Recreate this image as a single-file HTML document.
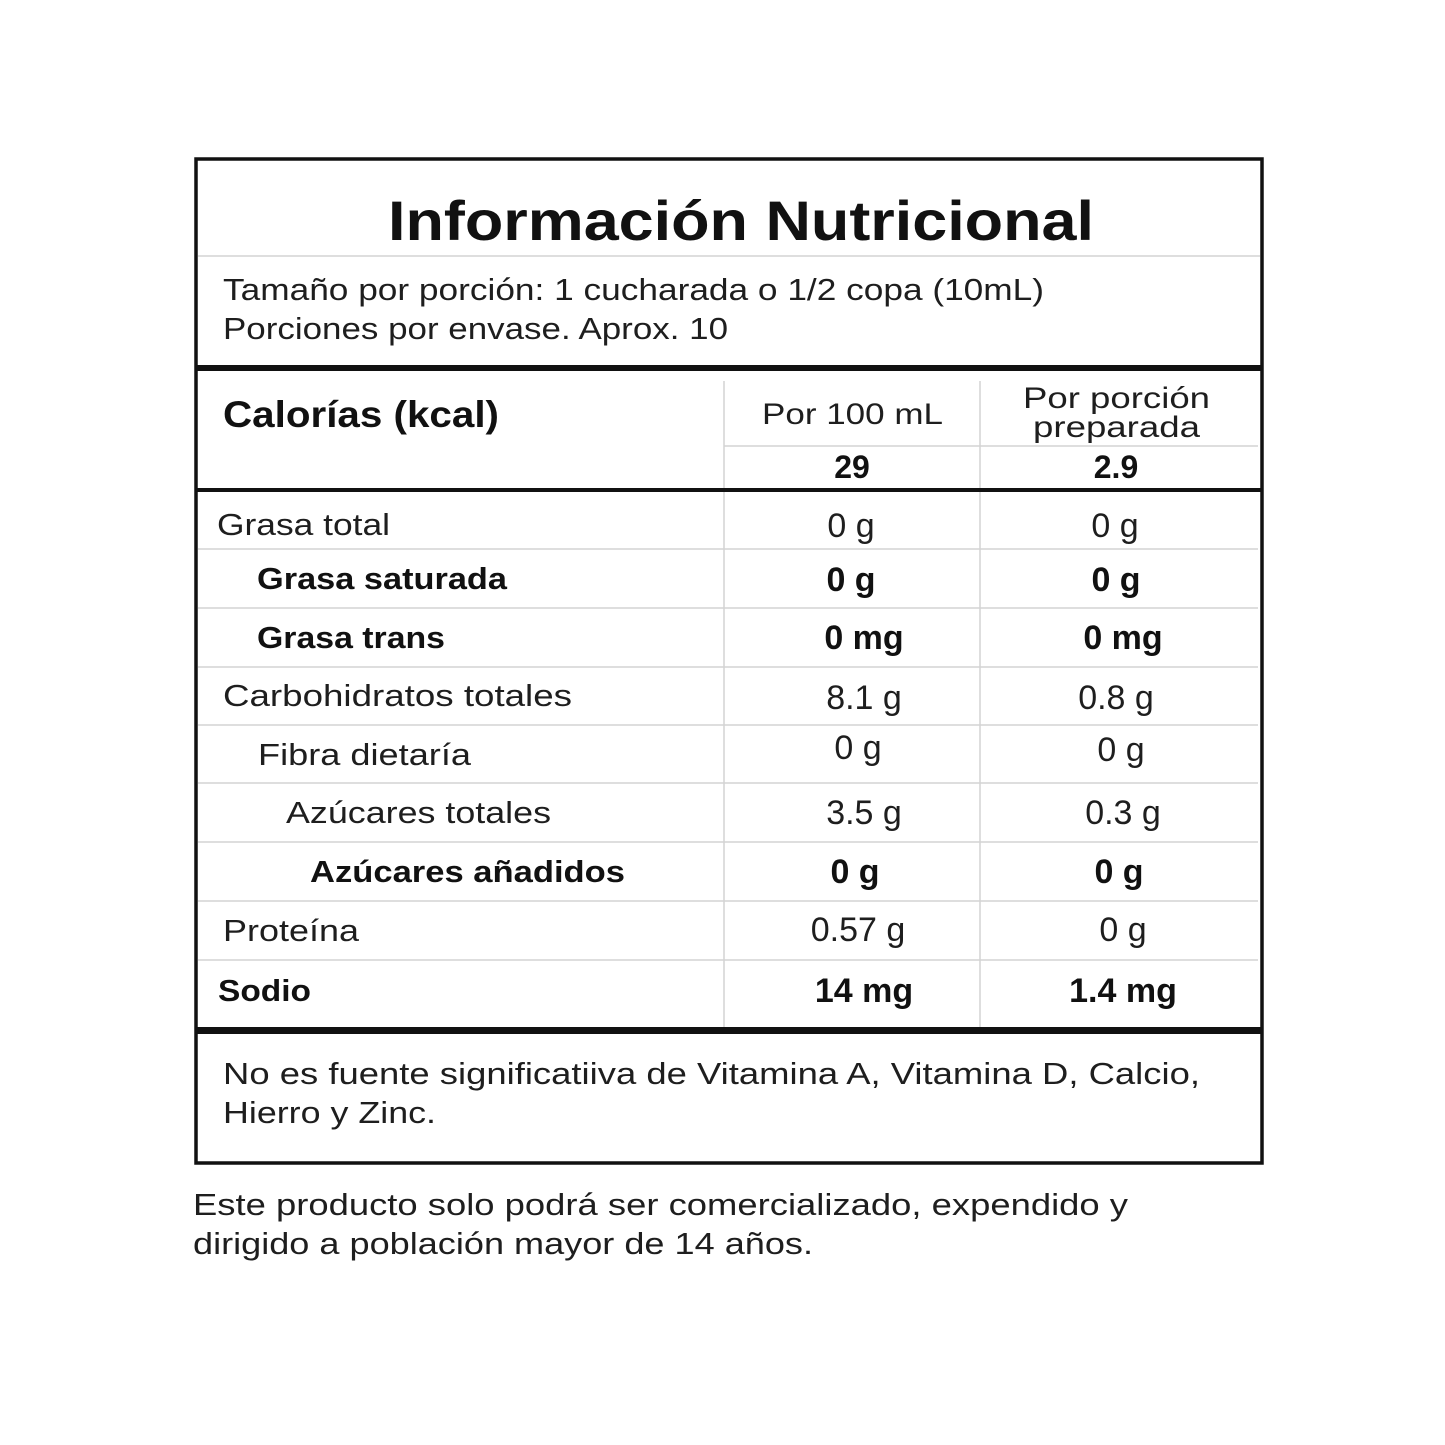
<!DOCTYPE html>
<html><head><meta charset="utf-8"><style>
html,body{margin:0;padding:0;background:#fff;}
svg{display:block;}
text{font-family:"Liberation Sans",sans-serif;fill:#1e1e1e;}
.b{font-weight:bold;fill:#111;}
.v{font-size:34px;}
</style></head><body>
<svg width="1445" height="1445" viewBox="0 0 1445 1445" xmlns="http://www.w3.org/2000/svg">
<rect x="0" y="0" width="1445" height="1445" fill="#fff"/>
<g stroke="#d4d4d4" stroke-width="1.5">
<line x1="198" y1="256" x2="1260" y2="256"/>
<line x1="724" y1="446" x2="1258" y2="446"/>
<line x1="198" y1="549" x2="1258" y2="549"/>
<line x1="198" y1="608" x2="1258" y2="608"/>
<line x1="198" y1="667" x2="1258" y2="667"/>
<line x1="198" y1="725" x2="1258" y2="725"/>
<line x1="198" y1="783" x2="1258" y2="783"/>
<line x1="198" y1="842" x2="1258" y2="842"/>
<line x1="198" y1="901" x2="1258" y2="901"/>
<line x1="198" y1="960" x2="1258" y2="960"/>
<line x1="724" y1="381" x2="724" y2="1028"/>
<line x1="980" y1="381" x2="980" y2="1028"/>
</g>
<rect x="196" y="159" width="1066" height="1004" fill="none" stroke="#111" stroke-width="3.5"/>
<rect x="196" y="365" width="1066" height="6" fill="#111"/>
<rect x="196" y="488" width="1066" height="4" fill="#111"/>
<rect x="196" y="1027" width="1066" height="7" fill="#111"/>

<text class="b" x="388" y="240" font-size="56" textLength="706" lengthAdjust="spacingAndGlyphs">Información Nutricional</text>
<text x="223" y="300" font-size="31" textLength="821" lengthAdjust="spacingAndGlyphs">Tamaño por porción: 1 cucharada o 1/2 copa (10mL)</text>
<text x="223" y="339" font-size="31" textLength="505" lengthAdjust="spacingAndGlyphs">Porciones por envase. Aprox. 10</text>

<text class="b" x="223" y="427" font-size="37" textLength="276" lengthAdjust="spacingAndGlyphs">Calorías (kcal)</text>
<text x="762" y="424" font-size="30" textLength="181" lengthAdjust="spacingAndGlyphs">Por 100 mL</text>
<text x="1023" y="408" font-size="30" textLength="187" lengthAdjust="spacingAndGlyphs">Por porción</text>
<text x="1033" y="437" font-size="30" textLength="167" lengthAdjust="spacingAndGlyphs">preparada</text>
<text class="b" x="852" y="478" font-size="32" text-anchor="middle">29</text>
<text class="b" x="1116" y="478" font-size="32" text-anchor="middle">2.9</text>

<text x="217" y="535" font-size="31" textLength="173" lengthAdjust="spacingAndGlyphs">Grasa total</text>
<text class="v" x="851" y="537" text-anchor="middle">0 g</text>
<text class="v" x="1115" y="537" text-anchor="middle">0 g</text>

<text class="b" x="257" y="589" font-size="31" textLength="250" lengthAdjust="spacingAndGlyphs">Grasa saturada</text>
<text class="b v" x="851" y="591" text-anchor="middle">0 g</text>
<text class="b v" x="1116" y="591" text-anchor="middle">0 g</text>

<text class="b" x="257" y="648" font-size="31" textLength="188" lengthAdjust="spacingAndGlyphs">Grasa trans</text>
<text class="b v" x="864" y="649" text-anchor="middle">0 mg</text>
<text class="b v" x="1123" y="649" text-anchor="middle">0 mg</text>

<text x="223" y="706" font-size="31" textLength="349" lengthAdjust="spacingAndGlyphs">Carbohidratos totales</text>
<text class="v" x="864" y="709" text-anchor="middle">8.1 g</text>
<text class="v" x="1116" y="709" text-anchor="middle">0.8 g</text>

<text x="258" y="765" font-size="31" textLength="213" lengthAdjust="spacingAndGlyphs">Fibra dietaría</text>
<text class="v" x="858" y="759" text-anchor="middle">0 g</text>
<text class="v" x="1121" y="761" text-anchor="middle">0 g</text>

<text x="286" y="823" font-size="31" textLength="265" lengthAdjust="spacingAndGlyphs">Azúcares totales</text>
<text class="v" x="864" y="824" text-anchor="middle">3.5 g</text>
<text class="v" x="1123" y="824" text-anchor="middle">0.3 g</text>

<text class="b" x="310" y="882" font-size="31" textLength="315" lengthAdjust="spacingAndGlyphs">Azúcares añadidos</text>
<text class="b v" x="855" y="883" text-anchor="middle">0 g</text>
<text class="b v" x="1119" y="883" text-anchor="middle">0 g</text>

<text x="223" y="941" font-size="31" textLength="136" lengthAdjust="spacingAndGlyphs">Proteína</text>
<text class="v" x="858" y="941" text-anchor="middle">0.57 g</text>
<text class="v" x="1123" y="941" text-anchor="middle">0 g</text>

<text class="b" x="218" y="1001" font-size="31" textLength="93" lengthAdjust="spacingAndGlyphs">Sodio</text>
<text class="b v" x="864" y="1002" text-anchor="middle">14 mg</text>
<text class="b v" x="1123" y="1002" text-anchor="middle">1.4 mg</text>

<text x="223" y="1084" font-size="31" textLength="977" lengthAdjust="spacingAndGlyphs">No es fuente significatiiva de Vitamina A, Vitamina D, Calcio,</text>
<text x="223" y="1123" font-size="31" textLength="213" lengthAdjust="spacingAndGlyphs">Hierro y Zinc.</text>

<text x="193" y="1215" font-size="31" textLength="935" lengthAdjust="spacingAndGlyphs">Este producto solo podrá ser comercializado, expendido y</text>
<text x="193" y="1254" font-size="31" textLength="620" lengthAdjust="spacingAndGlyphs">dirigido a población mayor de 14 años.</text>
</svg>
</body></html>
